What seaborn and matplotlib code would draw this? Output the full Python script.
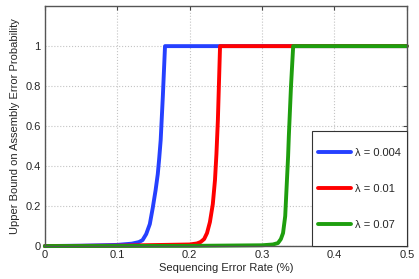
import matplotlib
matplotlib.use("Agg")
import matplotlib.pyplot as plt
import seaborn as sns
import pandas as pd
from matplotlib.patches import Rectangle

# values
x_004 = [0, 0.05, 0.1, 0.12, 0.13, 0.135, 0.14, 0.145, 0.149, 0.153, 0.156, 0.158, 0.16, 0.163, 0.166, 0.5]
y_004 = [0, 0.002, 0.006, 0.012, 0.02, 0.03, 0.06, 0.11, 0.19, 0.28, 0.36, 0.44, 0.53, 0.75, 1.0, 1.0]
x_01 = [0, 0.1, 0.2, 0.21, 0.215, 0.22, 0.224, 0.228, 0.232, 0.235, 0.237, 0.239, 0.242, 0.5]
y_01 = [0, 0.002, 0.008, 0.013, 0.02, 0.035, 0.065, 0.12, 0.21, 0.33, 0.46, 0.63, 1.0, 1.0]
x_07 = [0, 0.2, 0.3, 0.315, 0.322, 0.326, 0.329, 0.332, 0.334, 0.336, 0.337, 0.34, 0.343, 0.5]
y_07 = [0, 0.001, 0.004, 0.008, 0.015, 0.035, 0.065, 0.15, 0.3, 0.45, 0.55, 0.8, 1.0, 1.0]

labels = ['λ = 0.004', 'λ = 0.01', 'λ = 0.07']
colors = ['#2540ff', '#ff0000', '#1e9e0e']

frames = []
for lab, xs, ys in zip(labels, [x_004, x_01, x_07], [y_004, y_01, y_07]):
    frames.append(pd.DataFrame({'rate': xs, 'prob': ys, 'lam': lab}))
data = pd.concat(frames, ignore_index=True)

sns.set_style('white')
plt.rcParams['font.family'] = ['Liberation Sans', 'DejaVu Sans']
fs = 8

fig = plt.figure(figsize=(4.19, 2.79), dpi=100)
ax = fig.add_axes([0.107, 0.118, 0.864, 0.86])

sns.lineplot(data=data, x='rate', y='prob', hue='lam', palette=colors,
             linewidth=2.8, ax=ax, sort=False, estimator=None, clip_on=False)

ax.set_xlim(0, 0.5)
ax.set_ylim(0, 1.2)
ax.set_xticks([0, 0.1, 0.2, 0.3, 0.4, 0.5])
ax.set_xticklabels(['0', '0.1', '0.2', '0.3', '0.4', '0.5'])
ax.set_yticks([0, 0.2, 0.4, 0.6, 0.8, 1])
ax.set_yticklabels(['0', '0.2', '0.4', '0.6', '0.8', '1'])
ax.grid(True, linestyle=':', color='#c4c4c4', linewidth=0.8)
ax.tick_params(direction='in', length=3, top=True, right=True, color='#444444', labelsize=fs, pad=3)
for s in ax.spines.values():
    s.set_color('#555555')
    s.set_linewidth(1.0)

ax.set_xlabel('Sequencing Error Rate (%)', fontsize=fs, labelpad=2)
ax.set_ylabel('Upper Bound on Assembly Error Probability', fontsize=fs, labelpad=4)

# legend box drawn separately (tall, narrow box like the original)
box = (0.7376, 0.0, 0.2624, 0.479)
ax.add_patch(Rectangle(box[:2], box[2], box[3], transform=ax.transAxes,
                       facecolor='white', edgecolor='#333333', linewidth=0.8,
                       zorder=4.5, clip_on=False))
leg = ax.legend(loc='center', bbox_to_anchor=box, frameon=False,
                labelspacing=2.35, handlelength=3.0, handletextpad=0.3,
                borderpad=0, fontsize=fs)
leg.set_zorder(5)
for h in leg.get_lines():
    h.set_linewidth(2.8)

fig.savefig('out.png', dpi=100)
